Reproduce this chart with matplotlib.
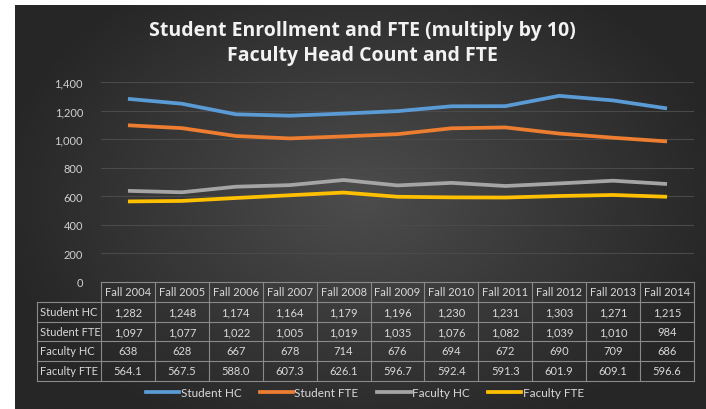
import numpy as np
import matplotlib
matplotlib.use("Agg")
import matplotlib.pyplot as plt
from matplotlib.lines import Line2D

plt.rcParams["font.family"] = ["Lato", "DejaVu Sans"]

years = ["Fall 2004", "Fall 2005", "Fall 2006", "Fall 2007", "Fall 2008", "Fall 2009",
         "Fall 2010", "Fall 2011", "Fall 2012", "Fall 2013", "Fall 2014"]
student_hc = [1282, 1248, 1174, 1164, 1179, 1196, 1230, 1231, 1303, 1271, 1215]
student_fte = [1097, 1077, 1022, 1005, 1019, 1035, 1076, 1082, 1039, 1010, 984]
faculty_hc = [638, 628, 667, 678, 714, 676, 694, 672, 690, 709, 686]
faculty_fte = [564.1, 567.5, 588.0, 607.3, 626.1, 596.7, 592.4, 591.3, 601.9, 609.1, 596.6]

series = [
    ("Student HC", student_hc, "#5B9BD5", "{:,.0f}"),
    ("Student FTE", student_fte, "#ED7D31", "{:,.0f}"),
    ("Faculty HC", faculty_hc, "#A5A5A5", "{:,.0f}"),
    ("Faculty FTE", faculty_fte, "#FFC000", "{:,.1f}"),
]

W, H = 706, 410
fig = plt.figure(figsize=(W / 100, H / 100), dpi=100, facecolor="white")

# dark radial background of the chart area
bg = fig.add_axes([15 / W, 0, 1 - 15 / W, 1 - 6 / H])
yy, xx = np.mgrid[0:200, 0:350]
r = np.sqrt(((xx - 175) / 175) ** 2 + ((yy - 95) / 120) ** 2)
shade = np.clip(0.30 - 0.14 * r, 0.15, 0.30)
bg.imshow(shade, cmap="gray", vmin=0, vmax=1, aspect="auto", interpolation="bicubic")
bg.axis("off")

def fx(px):
    return px / W

def fy(py):
    return 1 - py / H

left_px, right_px = 101, 694
top_px, bot_px = 83, 283
ax = fig.add_axes([fx(left_px), fy(bot_px), fx(right_px) - fx(left_px), fy(top_px) - fy(bot_px)])
ax.set_facecolor("none")
x = np.arange(len(years))
for name, vals, col, _ in series:
    ax.plot(x, vals, color=col, lw=2.7, solid_capstyle="butt", solid_joinstyle="round", zorder=3)
ax.set_xlim(-0.5, len(years) - 0.5)
ax.set_ylim(0, 1400)
ax.set_yticks(range(0, 1401, 200))
ax.set_yticklabels([f"{v:,}" for v in range(0, 1401, 200)])
ax.yaxis.grid(True, color="#4a4a4a", lw=0.8)
ax.set_axisbelow(True)
ax.tick_params(axis="y", length=0, pad=13, labelcolor="#d0d0d0", labelsize=8)
ax.set_xticks([])
for s in ax.spines.values():
    s.set_visible(False)

# title
title_font = dict(ha="center", va="center", fontsize=14, fontweight="bold",
                  color="#f2f2f2", family=["Open Sans", "DejaVu Sans"])
fig.text(fx(362), fy(31), "Student Enrollment and FTE (multiply by 10)", **title_font)
fig.text(fx(362), fy(56), "Faculty Head Count and FTE", **title_font)

# data table
line_col = "#8a8a8a"
txt_col = "#d9d9d9"
colw = (right_px - left_px) / len(years)
label_left = 37
rows = [283, 303, 323, 342, 362, 382]
lw = 0.8
fig.add_artist(Line2D([fx(left_px), fx(right_px)], [fy(rows[0])] * 2, color=line_col, lw=lw))
for j in range(1, len(rows)):
    fig.add_artist(Line2D([fx(label_left), fx(right_px)], [fy(rows[j])] * 2, color=line_col, lw=lw))
fig.add_artist(Line2D([fx(label_left)] * 2, [fy(rows[1]), fy(rows[-1])], color=line_col, lw=lw))
for i in range(len(years) + 1):
    xp = left_px + i * colw
    fig.add_artist(Line2D([fx(xp)] * 2, [fy(rows[0]), fy(rows[-1])], color=line_col, lw=lw))
for i, yr in enumerate(years):
    fig.text(fx(left_px + (i + 0.5) * colw), fy((rows[0] + rows[1]) / 2), yr,
             ha="center", va="center", fontsize=8, color=txt_col)
for k, (name, vals, col, fmt) in enumerate(series):
    yc = fy((rows[k + 1] + rows[k + 2]) / 2)
    fig.text(fx(label_left + 3), yc, name, ha="left", va="center", fontsize=8, color=txt_col)
    for i, v in enumerate(vals):
        fig.text(fx(left_px + (i + 0.5) * colw), yc, fmt.format(v),
                 ha="center", va="center", fontsize=8, color=txt_col)

# legend
handles = [Line2D([], [], color=col, lw=2.7) for _, _, col, _ in series]
fig.legend(handles, [s[0] for s in series], loc="center", bbox_to_anchor=(fx(365), fy(394)),
           ncol=4, frameon=False, fontsize=8.5, labelcolor=txt_col, handlelength=2.8,
           handletextpad=0.1, columnspacing=1.6)

fig.savefig("out.png", dpi=100, facecolor="white")
